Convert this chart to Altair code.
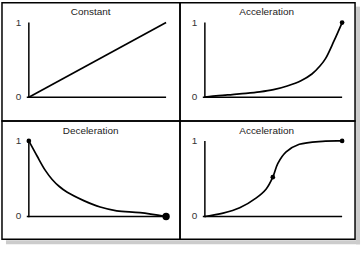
import altair as alt
import pandas as pd

titles = ["Constant", "Acceleration", "Deceleration", "Acceleration"]

const_x = [0.0, 1.0]
const_y = [0.0, 1.0]

acc_x = [0.0, 0.1, 0.2, 0.3, 0.4, 0.5, 0.6, 0.7, 0.78, 0.84, 0.88, 0.94, 1.0]
acc_y = [0.0, 0.02, 0.035, 0.05, 0.07, 0.1, 0.15, 0.22, 0.31, 0.42, 0.52, 0.75, 1.0]

dec_x = [0.0, 0.06, 0.12, 0.17, 0.22, 0.28, 0.4, 0.52, 0.64, 0.81, 1.0]
dec_y = [1.0, 0.8, 0.61, 0.49, 0.4, 0.32, 0.21, 0.125, 0.075, 0.05, 0.0]

s_x = [0.0, 0.133, 0.254, 0.375, 0.447, 0.495, 0.531, 0.592, 0.688, 0.857, 1.0]
s_y = [0.0, 0.044, 0.115, 0.246, 0.364, 0.52, 0.70, 0.855, 0.955, 0.995, 1.0]

# dots: (x, y, size)
const_dots = []
acc_dots = [(1.0, 1.0, 22)]
dec_dots = [(0.0, 1.0, 22), (1.0, 0.0, 55)]
s_dots = [(0.495, 0.52, 22), (1.0, 1.0, 22)]

tick_labels = ["0", "1"]
tick_vals = [0.0, 1.0]

FONT = "Liberation Sans"


def panel(title, xs, ys, dots, width, height, xdom, ydom, interp, shadow):
    xsc = alt.Scale(domain=xdom, nice=False, zero=False)
    ysc = alt.Scale(domain=ydom, nice=False, zero=False)
    X = lambda f="x": alt.X(f"{f}:Q", scale=xsc, axis=None)
    Y = lambda f="y": alt.Y(f"{f}:Q", scale=ysc, axis=None)

    line_df = pd.DataFrame({"x": xs, "y": ys})
    layers = []
    axes_df = pd.DataFrame({"x": [-0.015, 0.0], "x2": [1.0, 0.0], "y": [0.0, -0.01], "y2": [0.0, 1.0]})
    layers.append(
        alt.Chart(axes_df).mark_rule(color="black", strokeWidth=1.5).encode(
            x=X(), x2="x2:Q", y=Y(), y2="y2:Q"
        )
    )
    layers.append(
        alt.Chart(line_df).mark_line(color="black", strokeWidth=1.7, interpolate=interp).encode(
            x=X(), y=Y(), order="x:Q"
        )
    )
    if dots:
        dot_df = pd.DataFrame({"x": [d[0] for d in dots], "y": [d[1] for d in dots], "s": [d[2] for d in dots]})
        layers.append(
            alt.Chart(dot_df).mark_circle(color="black", opacity=1).encode(
                x=X(), y=Y(), size=alt.Size("s:Q", scale=None, legend=None)
            )
        )
    lab_df = pd.DataFrame({"x": [-0.075, -0.075], "y": tick_vals, "t": tick_labels})
    layers.append(
        alt.Chart(lab_df).mark_text(font=FONT, fontSize=10, color="#333", align="center", baseline="middle").encode(
            x=X(), y=Y(), text="t:N"
        )
    )
    title_df = pd.DataFrame({"x": [0.45], "y": [1.135], "t": [title]})
    layers.append(
        alt.Chart(title_df).mark_text(font=FONT, fontSize=10, color="#222", align="center", baseline="middle").encode(
            x=X(), y=Y(), text="t:N"
        )
    )
    for sh in shadow:
        layers.append(
            alt.Chart(pd.DataFrame({"k": [0]})).mark_rule(color="#cccccc", strokeWidth=4).encode(
                x=alt.value(sh[0]), x2=alt.value(sh[1]), y=alt.value(sh[2]), y2=alt.value(sh[3])
            )
        )
    return alt.layer(*layers).properties(width=width, height=height)


LW, RW, H = 179, 176, 119
ldom = [-27 / 138, (LW - 27) / 138]
rdom = [-25 / 138, (RW - 25) / 138]
tdom = [-(H - 95) / 75, 1 + 20 / 75]
bdom = [-(H - 96) / 76, 1 + 20 / 76]

p1 = panel(titles[0], const_x, const_y, const_dots, LW, H, ldom, tdom, "linear", [])
p2 = panel(titles[1], acc_x, acc_y, acc_dots, RW, H, rdom, tdom, "catmull-rom",
           [(RW + 3, RW + 3, 4, H)])
p3 = panel(titles[2], dec_x, dec_y, dec_dots, LW, H, ldom, bdom, "catmull-rom",
           [(4, LW, H + 3, H + 3)])
p4 = panel(titles[3], s_x, s_y, s_dots, RW, H, rdom, bdom, "catmull-rom",
           [(RW + 3, RW + 3, 0, H + 5), (0, RW + 5, H + 3, H + 3)])

chart = alt.concat(
    p1, p2, p3, p4,
    columns=2,
    spacing=0,
    bounds="flush",
).properties(
    padding={"left": 1, "top": 1, "right": 0, "bottom": 0},
    background="white",
).configure_view(
    stroke="black", strokeWidth=1.5
)

chart.save("out.html", embed_options={"renderer": "svg", "actions": False})
